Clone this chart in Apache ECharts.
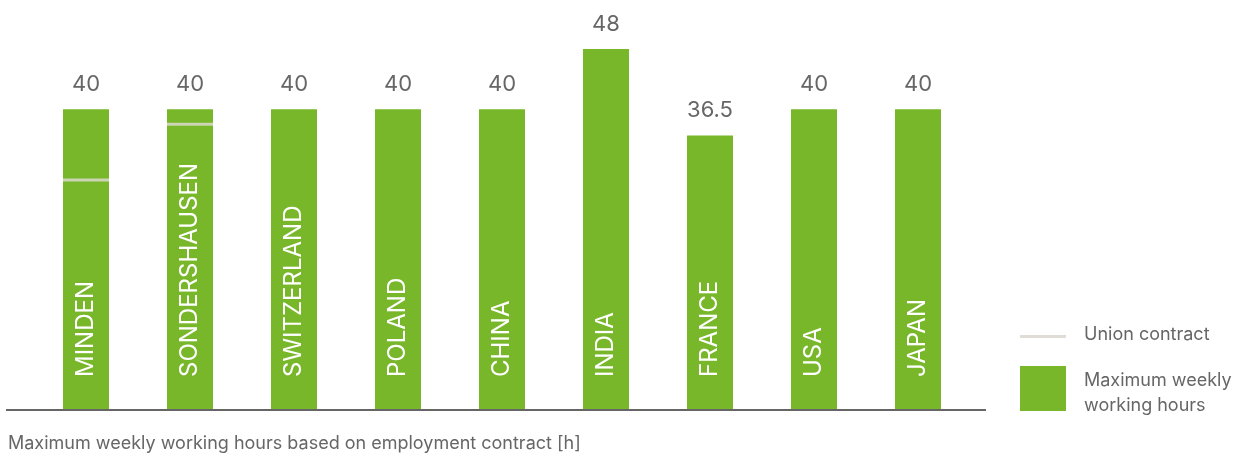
<!DOCTYPE html>
<html>
<head>
<meta charset="utf-8">
<script src="https://cdn.jsdelivr.net/npm/echarts@6/dist/echarts.min.js"></script>
<style>
html,body{margin:0;padding:0;background:#fff;}
#chart{width:1236px;height:457px;}
</style>
</head>
<body>
<div id="chart"></div>
<script>
const categories = ['MINDEN','SONDERSHAUSEN','SWITZERLAND','POLAND','CHINA','INDIA','FRANCE','USA','JAPAN'];
const maxWeeklyHours = [40, 40, 40, 40, 40, 48, 36.5, 40, 40];
const unionContract = [30.6, 38, null, null, null, null, null, null, null];
const footnote = 'Maximum weekly working hours based on employment contract [h]';
const legendUnion = 'Union contract';
const legendMax = 'Maximum weekly\nworking hours';

const GREEN = '#78b72a';
const GREY_TEXT = '#666666';
const UNION = '#e0dcd6';
const FONT = 'Inter, "Liberation Sans", Arial, sans-serif';

const chart = echarts.init(document.getElementById('chart'));
chart.setOption({
  animation: false,
  backgroundColor: '#fff',
  grid: {left: 34, right: 266, top: 34, bottom: 47},
  xAxis: {
    type: 'category',
    data: categories,
    axisLine: {show: false},
    axisTick: {show: false},
    axisLabel: {show: false},
    splitLine: {show: false}
  },
  yAxis: {
    type: 'value',
    min: 0, max: 50,
    show: false,
    splitLine: {show: false}
  },
  series: [
    {
      name: 'Maximum weekly working hours',
      type: 'bar',
      data: maxWeeklyHours,
      barWidth: 46,
      itemStyle: {color: GREEN},
      label: {
        show: true,
        position: 'top',
        distance: 14,
        color: GREY_TEXT,
        fontFamily: FONT,
        fontSize: 22,
        formatter: p => String(p.value)
      },
      z: 2
    },
    {
      name: 'Category labels',
      type: 'bar',
      data: maxWeeklyHours,
      barWidth: 46,
      barGap: '-100%',
      itemStyle: {color: 'rgba(0,0,0,0)'},
      label: {
        show: true,
        position: 'insideBottom',
        distance: 33,
        rotate: 90,
        align: 'left',
        verticalAlign: 'middle',
        color: '#ffffff',
        fontFamily: FONT,
        fontSize: 24,
        formatter: p => categories[p.dataIndex]
      },
      z: 4
    },
    {
      name: 'Union contract',
      type: 'scatter',
      data: unionContract.map(v => v == null ? '-' : v),
      symbol: 'rect',
      symbolSize: [46, 3],
      itemStyle: {color: UNION},
      z: 5
    }
  ],
  graphic: [
    {type: 'line', shape: {x1: 6, y1: 410, x2: 986, y2: 410}, style: {stroke: '#666666', lineWidth: 2}, z: 10},
    {type: 'rect', shape: {x: 1020, y: 335, width: 46, height: 3}, style: {fill: UNION}},
    {type: 'text', x: 1084, y: 335, style: {text: legendUnion, fill: GREY_TEXT, font: '18px ' + FONT, textVerticalAlign: 'middle'}},
    {type: 'rect', shape: {x: 1020, y: 366, width: 46, height: 45}, style: {fill: GREEN}},
    {type: 'text', x: 1084, y: 393, style: {text: legendMax, fill: GREY_TEXT, font: '18px ' + FONT, lineHeight: 25, textVerticalAlign: 'middle'}},
    {type: 'text', x: 8, y: 444, style: {text: footnote, fill: GREY_TEXT, font: '18px ' + FONT, textVerticalAlign: 'middle'}}
  ]
});
</script>
</body>
</html>
